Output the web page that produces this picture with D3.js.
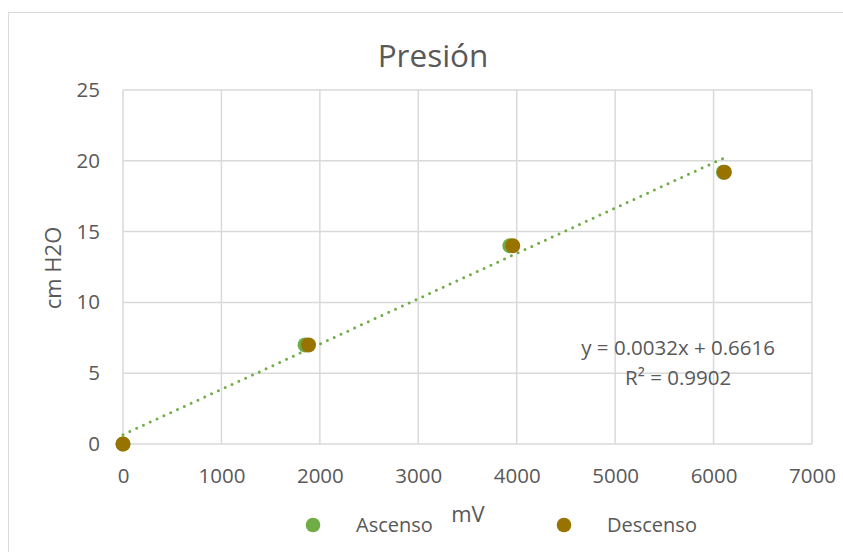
<!doctype html>
<html>
<head>
<meta charset="utf-8">
<title>Presión</title>
<script src="https://cdn.jsdelivr.net/npm/d3@7"></script>
<style>
    html, body { margin: 0; padding: 0; background: #fff; }
    svg text { font-family: "Open Sans", "Liberation Sans", sans-serif; fill: #595959; }
</style>
</head>
<body>
<svg width="843" height="552"></svg>
<script>
// data
var ascensoX = [0, 1850, 3930, 6100];
var ascensoY = [0, 7, 14, 19.2];
var descensoX = [0, 1885, 3960, 6110];
var descensoY = [0, 7, 14, 19.2];
var xTicks = [0, 1000, 2000, 3000, 4000, 5000, 6000, 7000];
var yTicks = [0, 5, 10, 15, 20, 25];
var slope = 0.0032, intercept = 0.6616, r2 = 0.9902;

var svg = d3.select('svg');
var margin = {left: 123, right: 31, top: 90, bottom: 108};
var width = 843 - margin.left - margin.right;
var height = 552 - margin.top - margin.bottom;

// chart border
svg.append('rect')
    .attr('x', 8.5).attr('y', 12.5)
    .attr('width', 850).attr('height', 560)
    .attr('fill', 'none').attr('stroke', '#d9d9d9');

var x = d3.scaleLinear().domain([0, 7000]).range([0, width]);
var y = d3.scaleLinear().domain([0, 25]).range([height, 0]);

var g = svg.append('g').attr('transform', 'translate(' + margin.left + ',' + margin.top + ')');

// grid
g.append('g').selectAll('line').data(xTicks).enter().append('line')
    .attr('x1', function(d) { return x(d); }).attr('x2', function(d) { return x(d); })
    .attr('y1', 0).attr('y2', height)
    .attr('stroke', '#d9d9d9').attr('stroke-width', 1.5);
g.append('g').selectAll('line').data(yTicks).enter().append('line')
    .attr('x1', 0).attr('x2', width)
    .attr('y1', function(d) { return y(d); }).attr('y2', function(d) { return y(d); })
    .attr('stroke', '#d9d9d9').attr('stroke-width', 1.5);

// axes (labels only)
var xAxis = g.append('g').attr('transform', 'translate(0,' + height + ')')
    .call(d3.axisBottom(x).tickValues(xTicks).tickFormat(d3.format('d')).tickSize(0).tickPadding(24));
var yAxis = g.append('g')
    .call(d3.axisLeft(y).tickValues(yTicks).tickSize(0).tickPadding(23));
[xAxis, yAxis].forEach(function(a) {
    a.select('.domain').remove();
    a.selectAll('text').attr('font-size', 20.5).style('fill', '#595959')
        .style('font-family', '"Open Sans", "Liberation Sans", sans-serif');
});

// trendline
var xMax = d3.max(descensoX.concat(ascensoX));
g.append('line')
    .attr('x1', x(0)).attr('y1', y(intercept))
    .attr('x2', x(xMax)).attr('y2', y(slope * xMax + intercept))
    .attr('stroke', '#70ad47').attr('stroke-width', 3)
    .attr('stroke-linecap', 'round').attr('stroke-dasharray', '0,7.5');

// points
function series(xs, ys, color) {
    g.append('g').selectAll('circle').data(xs).enter().append('circle')
        .attr('cx', function(d) { return x(d); })
        .attr('cy', function(d, i) { return y(ys[i]); })
        .attr('r', 7.5).attr('fill', color);
}
series(ascensoX, ascensoY, '#70ad47');
series(descensoX, descensoY, '#997300');

// equation
g.append('text').attr('x', x(5640)).attr('y', y(6.28))
    .attr('text-anchor', 'middle').attr('font-size', 20.5)
    .text('y = ' + slope + 'x + ' + intercept);
g.append('text').attr('x', x(5640)).attr('y', y(4.2))
    .attr('text-anchor', 'middle').attr('font-size', 20.5)
    .text('R² = ' + r2);

// title
svg.append('text').attr('x', 433).attr('y', 67)
    .attr('text-anchor', 'middle').attr('font-size', 31.5)
    .text('Presión');

// axis titles
svg.append('text').attr('x', 468).attr('y', 522)
    .attr('text-anchor', 'middle').attr('font-size', 22)
    .text('mV');
svg.append('text').attr('transform', 'translate(61,268) rotate(-90)')
    .attr('text-anchor', 'middle').attr('font-size', 22)
    .text('cm H2O');

// legend
var legend = [['Ascenso', '#70ad47', 313], ['Descenso', '#997300', 564]];
legend.forEach(function(l) {
    svg.append('circle').attr('cx', l[2]).attr('cy', 525).attr('r', 7.3).attr('fill', l[1]);
    svg.append('text').attr('x', l[2] + 43).attr('y', 532).attr('font-size', 20).text(l[0]);
});
</script>
</body>
</html>
